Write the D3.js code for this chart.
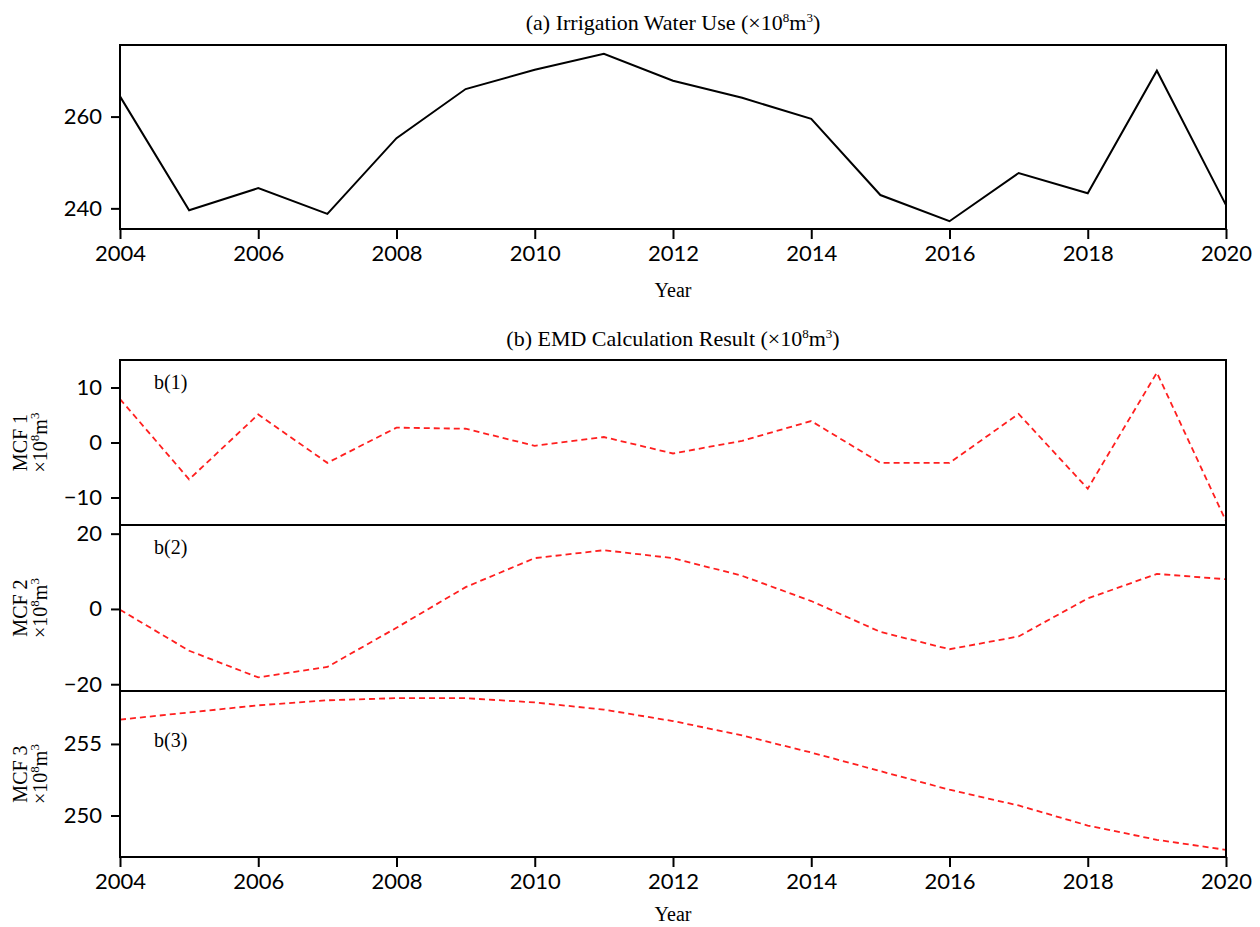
<!DOCTYPE html>
<html>
<head>
<meta charset="utf-8">
<script src="https://cdn.jsdelivr.net/npm/d3@7"></script>
<style>
  body { margin: 0; background: #fff; }
  .tick text { font-family: Lato, "Liberation Sans", sans-serif; font-size: 22px; fill: #000; }
  .serif { font-family: "Liberation Serif", "Times New Roman", serif; font-size: 20px; fill: #000; }
  .title { font-size: 22px; }
</style>
</head>
<body>
<div id="chart"></div>
<script>
const years = [2004, 2005, 2006, 2007, 2008, 2009, 2010, 2011, 2012, 2013, 2014, 2015, 2016, 2017, 2018, 2019, 2020];
const irrigation = [264.4, 239.6, 244.4, 238.8, 255.3, 266.0, 270.2, 273.7, 267.8, 264.1, 259.5, 242.9, 237.2, 247.7, 243.3, 270.0, 240.7];
const mcf1 = [7.9, -6.7, 5.1, -3.7, 2.7, 2.5, -0.6, 1.0, -2.0, 0.3, 3.9, -3.7, -3.7, 5.2, -8.4, 12.7, -14.3];
const mcf2 = [-0.2, -11.1, -18.2, -15.4, -5.0, 5.8, 13.5, 15.6, 13.5, 8.8, 2.1, -6.1, -10.7, -7.3, 2.8, 9.3, 7.9];
const mcf3 = [256.7, 257.2, 257.7, 258.05, 258.2, 258.2, 257.9, 257.4, 256.6, 255.6, 254.4, 253.1, 251.8, 250.7, 249.3, 248.3, 247.6];
const yearTicks = [2004, 2006, 2008, 2010, 2012, 2014, 2016, 2018, 2020];
const ticksA = [240, 260];
const ticks1 = [-10, 0, 10];
const ticks2 = [-20, 0, 20];
const ticks3 = [250, 255];

const width = 1260;
const height = 927;
const left = 120;
const right = 1226;
const midX = (left + right) / 2;

const svg = d3.select('#chart')
  .append('svg')
  .attr('width', width)
  .attr('height', height);

const xScale = d3.scaleLinear()
  .domain([2004, 2020])
  .range([left, right]);

// write "prefix×10^8m^3suffix" with superscripts
const unitText = (sel, prefix, suffix) => {
  sel.append('tspan').text(prefix + '×10');
  sel.append('tspan').attr('dy', -8).style('font-size', '13px').text('8');
  sel.append('tspan').attr('dy', 8).text('m');
  sel.append('tspan').attr('dy', -8).style('font-size', '13px').text('3');
  sel.append('tspan').attr('dy', 8).text(suffix);
};

const styleAxis = g => {
  g.select('.domain').remove();
  g.selectAll('.tick line').attr('stroke', '#000').attr('stroke-width', 2);
};

const drawPanel = (cfg) => {
  const yScale = d3.scaleLinear()
    .domain(cfg.domain)
    .range([cfg.bottom, cfg.top]);

  const line = d3.line()
    .x((d, i) => xScale(years[i]))
    .y(d => yScale(d));

  svg.append('path')
    .datum(cfg.values)
    .attr('fill', 'none')
    .attr('stroke', cfg.color)
    .attr('stroke-width', cfg.strokeWidth)
    .attr('stroke-dasharray', cfg.dash)
    .attr('d', line);

  svg.append('g')
    .attr('transform', 'translate(' + left + ',0)')
    .call(d3.axisLeft(yScale).tickValues(cfg.ticks).tickSize(9).tickPadding(9))
    .call(styleAxis);

  if (cfg.xAxis) {
    svg.append('g')
      .attr('transform', 'translate(0,' + cfg.bottom + ')')
      .call(d3.axisBottom(xScale).tickValues(yearTicks).tickFormat(d3.format('d')).tickSize(10).tickPadding(6))
      .call(styleAxis);
  }

  svg.append('rect')
    .attr('x', left)
    .attr('y', cfg.top)
    .attr('width', right - left)
    .attr('height', cfg.bottom - cfg.top)
    .attr('fill', 'none')
    .attr('stroke', '#000')
    .attr('stroke-width', 2);

  if (cfg.tag) {
    svg.append('text')
      .attr('class', 'serif')
      .attr('x', 154)
      .attr('y', cfg.tagY)
      .text(cfg.tag);
  }

  if (cfg.label) {
    const mid = (cfg.top + cfg.bottom) / 2;
    svg.append('text')
      .attr('class', 'serif')
      .attr('text-anchor', 'middle')
      .attr('transform', 'translate(27,' + mid + ') rotate(-90)')
      .text(cfg.label);
    const lab2 = svg.append('text')
      .attr('class', 'serif')
      .attr('text-anchor', 'middle')
      .attr('transform', 'translate(47,' + mid + ') rotate(-90)');
    unitText(lab2, '', '');
  }
};

// panel (a)
drawPanel({
  top: 45, bottom: 229, domain: [235.5, 275.6], values: irrigation, ticks: ticksA,
  color: '#000', strokeWidth: 2, dash: null, xAxis: true
});

// panels (b)
drawPanel({
  top: 360, bottom: 525, domain: [-15, 15], values: mcf1, ticks: ticks1,
  color: '#ff1f1f', strokeWidth: 1.8, dash: '6,4', tag: 'b(1)', tagY: 389, label: 'MCF 1'
});
drawPanel({
  top: 525, bottom: 691, domain: [-21.8, 22.3], values: mcf2, ticks: ticks2,
  color: '#ff1f1f', strokeWidth: 1.8, dash: '6,4', tag: 'b(2)', tagY: 554, label: 'MCF 2'
});
drawPanel({
  top: 691, bottom: 857, domain: [247.1, 258.7], values: mcf3, ticks: ticks3,
  color: '#ff1f1f', strokeWidth: 1.8, dash: '6,4', tag: 'b(3)', tagY: 747, label: 'MCF 3', xAxis: true
});

// titles
unitText(svg.append('text').attr('class', 'serif title')
  .attr('text-anchor', 'middle').attr('x', midX).attr('y', 30), '(a) Irrigation Water Use (', ')');
unitText(svg.append('text').attr('class', 'serif title')
  .attr('text-anchor', 'middle').attr('x', midX).attr('y', 346), '(b) EMD Calculation Result (', ')');

svg.append('text')
  .attr('class', 'serif')
  .attr('text-anchor', 'middle')
  .attr('x', midX)
  .attr('y', 297)
  .text('Year');

svg.append('text')
  .attr('class', 'serif')
  .attr('text-anchor', 'middle')
  .attr('x', midX)
  .attr('y', 921)
  .text('Year');
</script>
</body>
</html>
